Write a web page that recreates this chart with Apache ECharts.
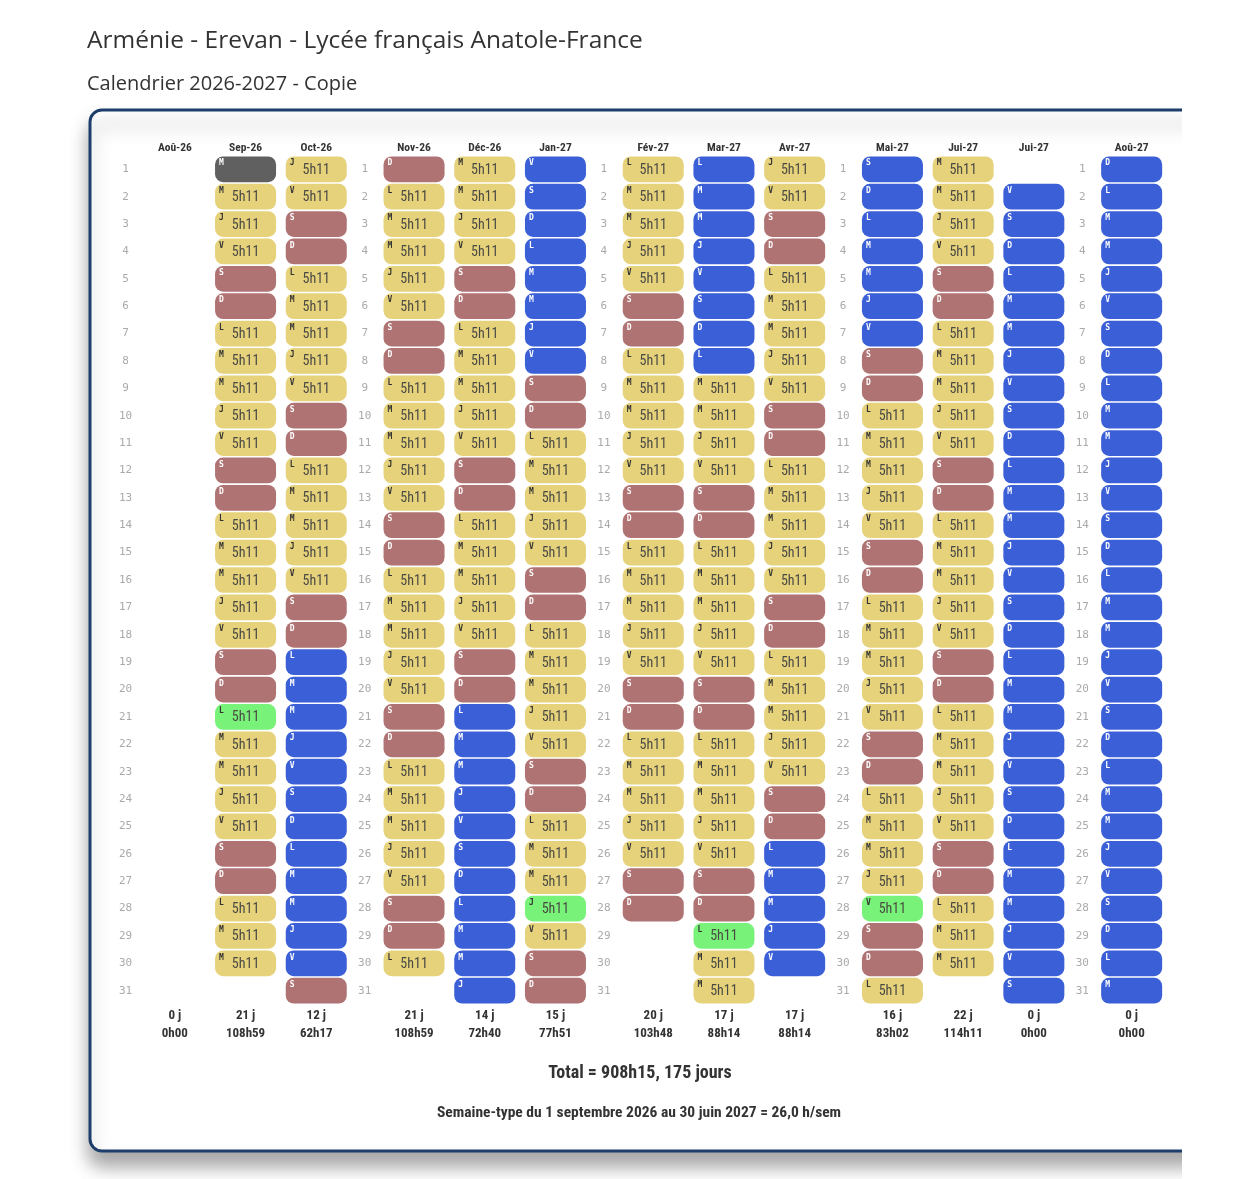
<!DOCTYPE html>
<html lang="fr">
<head>
<meta charset="UTF-8">
<title>Calendrier 2026-2027</title>
<style>
  html, body { margin: 0; padding: 0; background: #fff; }
  #main { width: 1240px; height: 1179px; }
</style>
</head>
<body>
<div id="main"></div>
<script src="https://cdn.jsdelivr.net/npm/echarts@6/dist/echarts.min.js"></script>
<script>
// mois affichés (colonnes)
var monthLabels = ['Aoû-26', 'Sep-26', 'Oct-26', 'Nov-26', 'Déc-26', 'Jan-27',
    'Fév-27', 'Mar-27', 'Avr-27', 'Mai-27', 'Jui-27', 'Jui-27', 'Aoû-27'];
// jour de la semaine du 1er de chaque mois (0 = lundi)
var firstWeekday = [5, 1, 3, 6, 1, 4, 0, 0, 3, 5, 1, 3, 6];
// état de chaque jour : . vide, g pré-rentrée, w cours, x cours (jour marqué), e week-end, h vacances
var monthCodes = [
    '...............................',
    'gwwweewwwwweewwwwweexwwwweewww',
    'wweewwwwweewwwwweehhhhhhhhhhhhe',
    'ewwwwweewwwwweewwwwweewwwwweew',
    'wwwweewwwwweewwwwweehhhhhhhhhhh',
    'hhhhhhhheewwwwweewwwwweewwwxwee',
    'wwwwweewwwwweewwwwweewwwwwee',
    'hhhhhhhhwwwweewwwwweewwwwweexww',
    'wweewwwwweewwwwweewwwwweehhhhh',
    'hhhhhhheewwwwweewwwwweewwwwxeew',
    'wwwweewwwwweewwwwweewwwwweewww',
    '.hhhhhhhhhhhhhhhhhhhhhhhhhhhhhh',
    'hhhhhhhhhhhhhhhhhhhhhhhhhhhhhhh'
];
var dayHours = '5h11';
var monthDays = ['0 j', '21 j', '12 j', '21 j', '14 j', '15 j', '20 j', '17 j', '17 j', '16 j', '22 j', '0 j', '0 j'];
var monthHours = ['0h00', '108h59', '62h17', '108h59', '72h40', '77h51', '103h48', '88h14', '88h14', '83h02', '114h11', '0h00', '0h00'];
var dayLabels = ['1', '2', '3', '4', '5', '6', '7', '8', '9', '10', '11', '12', '13', '14', '15', '16',
    '17', '18', '19', '20', '21', '22', '23', '24', '25', '26', '27', '28', '29', '30', '31'];
var weekLetters = ['L', 'M', 'M', 'J', 'V', 'S', 'D'];
var groups = [[0, 1, 2], [3, 4, 5], [6, 7, 8], [9, 10, 11], [12]];

var mainTitle = 'Arménie - Erevan - Lycée français Anatole-France';
var subTitle = 'Calendrier 2026-2027 - Copie';
var totalText = 'Total = 908h15, 175 jours';
var weekText = 'Semaine-type du 1 septembre 2026 au 30 juin 2027 = 26,0 h/sem';

var condensed = "'Roboto Condensed', 'Liberation Sans Narrow', 'DejaVu Sans Condensed', sans-serif";
var cellStyles = {
    g: { fill: '#606060', letter: '#fff' },
    w: { fill: '#e6d27b', letter: '#333' },
    x: { fill: '#78f278', letter: '#333' },
    e: { fill: '#b07373', letter: '#fff' },
    h: { fill: '#3b5fd6', letter: '#fff' }
};

var colW = 70.7, groupStep = 239.2, gridLeft0 = 139.5, gridTop = 155.6, rowsH = 848.8;

function renderCell(params, api) {
    var code = api.value(2);
    var st = cellStyles[code];
    var p = api.coord([api.value(0), api.value(1)]);
    var s = api.size([1, 1]);
    var w = s[0] * 0.863, h = s[1] * 0.94;
    var x = p[0] - w / 2, y = p[1] - h / 2;
    var children = [{
        type: 'rect',
        shape: { x: x, y: y, width: w, height: h, r: 8 },
        style: { fill: st.fill }
    }, {
        type: 'text',
        style: {
            text: api.value(3), x: x + 4, y: y + 3,
            fill: st.letter, font: 'bold 8px "DejaVu Sans Mono", monospace'
        }
    }];
    if (code === 'w' || code === 'x') {
        children.push({
            type: 'text',
            style: {
                text: dayHours, x: p[0], y: p[1] + 1, align: 'center', verticalAlign: 'middle',
                fill: '#4a4a44', font: '14px ' + condensed
            }
        });
    }
    return { type: 'group', children: children };
}

var grids = [], xAxes = [], yAxes = [], series = [];
groups.forEach(function (g, gi) {
    grids.push({
        left: gridLeft0 + gi * groupStep, top: gridTop,
        width: g.length * colW, height: rowsH
    });
    xAxes.push({
        type: 'category', gridIndex: gi, position: 'top',
        data: g.map(function (m) { return monthLabels[m]; }),
        axisLine: { show: false }, axisTick: { show: false }, splitLine: { show: false },
        axisLabel: { margin: 1, color: '#333', fontWeight: 'bold', fontSize: 11.5, fontFamily: condensed }
    });
    xAxes.push({
        type: 'category', gridIndex: gi, position: 'bottom',
        data: g.map(function (m) { return monthDays[m] + '\n' + monthHours[m]; }),
        axisLine: { show: false }, axisTick: { show: false }, splitLine: { show: false },
        axisLabel: {
            margin: 2, color: '#333', fontWeight: 'bold', fontSize: 13, lineHeight: 18,
            verticalAlign: 'top', fontFamily: condensed
        }
    });
    yAxes.push({
        type: 'category', gridIndex: gi, inverse: true, data: dayLabels,
        axisLine: { show: false }, axisTick: { show: false }, splitLine: { show: false },
        axisLabel: {
            margin: 14, align: 'center', color: '#aaa', fontSize: 11,
            fontFamily: '"DejaVu Sans Mono", monospace'
        }
    });
    var data = [];
    g.forEach(function (m, li) {
        var codes = monthCodes[m];
        for (var d = 0; d < codes.length; d++) {
            var c = codes.charAt(d);
            if (c === '.') continue;
            data.push([li, d, c, weekLetters[(firstWeekday[m] + d) % 7]]);
        }
    });
    series.push({
        type: 'custom', xAxisIndex: gi * 2, yAxisIndex: gi,
        renderItem: renderCell, data: data, encode: { x: 0, y: 1 },
        silent: true
    });
});

var chart = echarts.init(document.getElementById('main'), null, { renderer: 'canvas' });
chart.setOption({
    animation: false,
    backgroundColor: '#fff',
    title: [{
        text: mainTitle, left: 82, top: 24,
        textStyle: { fontSize: 24.5, fontWeight: 'normal', color: '#333', fontFamily: "'Open Sans', sans-serif" }
    }, {
        text: subTitle, left: 82, top: 69,
        textStyle: { fontSize: 20, fontWeight: 'normal', color: '#333', fontFamily: "'Open Sans', sans-serif" }
    }],
    graphic: [{
        type: 'rect', z: -10, silent: true,
        shape: { x: 90, y: 110, width: 1130, height: 1041, r: 12 },
        style: {
            fill: '#fff', stroke: '#1d3e6b', lineWidth: 3,
            shadowBlur: 18, shadowOffsetY: 14, shadowColor: 'rgba(0,0,0,0.35)'
        }
    }, {
        type: 'rect', z: 100, silent: true,
        shape: { x: 1182, y: 0, width: 58, height: 1179 },
        style: { fill: '#fff' }
    }, {
        type: 'text', z: 10, silent: true,
        style: {
            text: totalText, x: 640, y: 1073, align: 'center', verticalAlign: 'middle',
            fill: '#333', font: 'bold 18px ' + condensed
        }
    }, {
        type: 'text', z: 10, silent: true,
        style: {
            text: weekText, x: 639, y: 1113, align: 'center', verticalAlign: 'middle',
            fill: '#333', font: 'bold 15.5px ' + condensed
        }
    }],
    grid: grids,
    xAxis: xAxes,
    yAxis: yAxes,
    series: series
});
</script>
</body>
</html>
